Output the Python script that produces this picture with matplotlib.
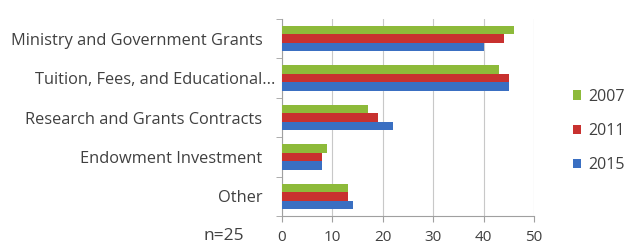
import matplotlib

matplotlib.use("Agg")
import matplotlib.pyplot as plt
import matplotlib.transforms as mtransforms
import numpy as np

categories = [
    "Ministry and Government Grants",
    "Tuition, Fees, and Educational...",
    "Research and Grants Contracts",
    "Endowment Investment",
    "Other",
]
years = ["2007", "2011", "2015"]
values_2007 = [46, 43, 17, 9, 13]
values_2011 = [44, 45, 19, 8, 13]
values_2015 = [40, 45, 22, 8, 14]
colors = ["#8dba3a", "#c8312f", "#3a6fc2"]

plt.rcParams["font.family"] = ["Open Sans", "DejaVu Sans"]

fig = plt.figure(figsize=(6.3, 2.46), dpi=100)
ax = fig.add_axes([282 / 630, 30 / 246, 252 / 630, 197 / 246])

n = len(categories)
pos = np.arange(n)[::-1].astype(float)
bh = 0.215
series = [values_2007, values_2011, values_2015]
for i, (vals, col, yr) in enumerate(zip(series, colors, years)):
    ax.barh(pos + (1 - i) * bh, vals, height=bh, color=col, label=yr, zorder=3)

ax.set_xlim(0, 50)
ax.set_ylim(-0.5, n - 0.5)
ax.set_xticks(range(0, 51, 10))
ax.set_yticks(pos)
ax.set_yticklabels(categories)
ax.set_yticks(np.arange(-0.5, n, 1.0), minor=True)
ax.tick_params(axis="y", which="major", length=0, pad=14, labelsize=11.75, labelcolor="#404040")
ax.tick_params(axis="y", which="minor", length=4, color="#a0a0a0")
ax.tick_params(axis="x", length=4, color="#a0a0a0", labelsize=11, labelcolor="#404040", pad=6)
ax.grid(axis="x", color="#c8c8c8", linewidth=0.8, zorder=0)
for side in ["top", "right"]:
    ax.spines[side].set_visible(False)
for side in ["left", "bottom"]:
    ax.spines[side].set_color("#a0a0a0")

# the truncated label sits a little further right, as in the original
lab = ax.get_yticklabels()[1]
lab.set_transform(lab.get_transform() + mtransforms.ScaledTranslation(13 / 100, 0, fig.dpi_scale_trans))

fig.text(244 / 630, 1 - 236 / 246, "n=25", ha="right", va="center",
         fontsize=12.5, color="#404040")

ax.legend(loc="center left", bbox_to_anchor=(573 / 630, 1 - 131 / 246),
          bbox_transform=fig.transFigure, frameon=False, borderaxespad=0, borderpad=0,
          fontsize=11.5, labelcolor="#404040", handlelength=0.5, handleheight=0.5,
          labelspacing=1.15, handletextpad=0.45)

fig.savefig("out.png", dpi=100)
